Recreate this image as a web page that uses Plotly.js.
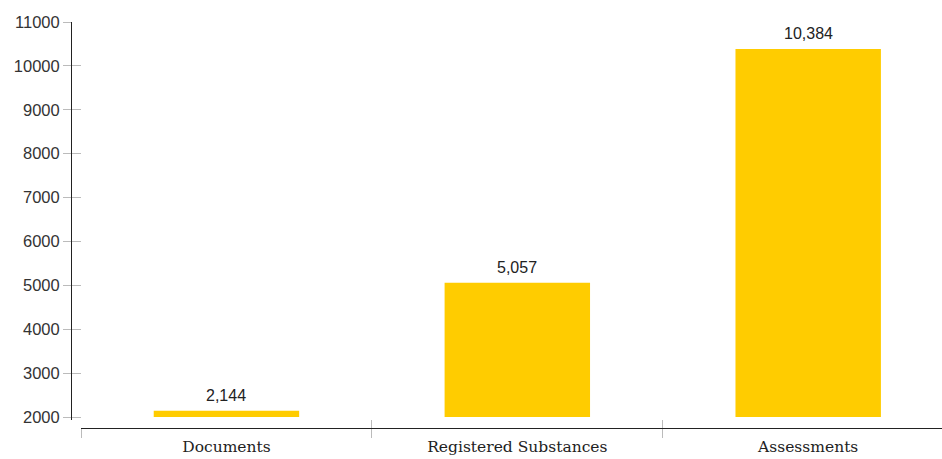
<!DOCTYPE html>
<html>
<head>
<meta charset="utf-8">
<script src="https://cdn.plot.ly/plotly-3.0.1.min.js"></script>
<style>
  html, body { margin: 0; padding: 0; background: #fff; }
  #chart { width: 942px; height: 459px; }
</style>
</head>
<body>
<div id="chart"></div>
<script>
// Record counts per category; bars start at the axis baseline.
const categories = ['Documents', 'Registered Substances', 'Assessments'];
const counts = [2144, 5057, 10384];
const baseline = 2000;
const yTicks = [2000, 3000, 4000, 5000, 6000, 7000, 8000, 9000, 10000, 11000];

const W = 942, H = 459;
const mL = 71, mR = 0, mT = 22, mB = 31;
const plotW = W - mL - mR, plotH = H - mT - mB;
const xStart = 10 / plotW;          // x-axis begins a little right of the y-axis
const yStart = 8 / plotH;           // y-axis stops a little above the x-axis

const yRange = [1932, 11000];
const xRange = [-0.5, 2.46];

const labelText = counts.map(v => v.toLocaleString('en-US'));

const trace = {
  type: 'bar',
  x: categories,
  y: counts.map(v => v - baseline),
  base: baseline,
  width: 0.5,
  marker: { color: '#FFCC00' },
  hoverinfo: 'x+y',
  xaxis: 'x',
  yaxis: 'y'
};

// Invisible companion trace so the overlay axes exist.
const ghost = {
  type: 'bar', x: categories, y: [null, null, null],
  xaxis: 'x2', yaxis: 'y2', showlegend: false, hoverinfo: 'skip'
};

// Value labels sit just above each bar top.
const valueLabels = categories.map((c, i) => ({
  x: c, y: counts[i], xref: 'x', yref: 'y',
  text: labelText[i], showarrow: false,
  xanchor: 'center', yanchor: 'bottom', yshift: 5,
  font: { family: 'Liberation Sans, sans-serif', size: 16, color: '#222' }
}));

const layout = {
  width: W, height: H,
  margin: { l: mL, r: mR, t: mT, b: mB, pad: 0 },
  paper_bgcolor: '#fff', plot_bgcolor: '#fff',
  showlegend: false,
  bargap: 0.5,
  annotations: valueLabels,
  xaxis: {
    type: 'category',
    domain: [xStart, 1],
    range: xRange,
    anchor: 'free', position: 0,
    showline: true, linecolor: '#222', linewidth: 1.2,
    showgrid: false, zeroline: false,
    ticks: 'outside', tickson: 'boundaries', ticklen: 9, tickcolor: '#bbb', tickwidth: 1,
    ticklabelstandoff: 4,
    tickfont: { family: 'DejaVu Serif, serif', size: 15.5, color: '#222' }
  },
  xaxis2: {
    type: 'category', overlaying: 'x',
    domain: [xStart, 1], range: xRange,
    anchor: 'free', position: 0,
    showline: false, showgrid: false, zeroline: false, showticklabels: false,
    ticks: 'inside', tickson: 'boundaries', ticklen: 8, tickcolor: '#bbb', tickwidth: 1
  },
  yaxis: {
    domain: [yStart, 1],
    range: yRange,
    anchor: 'free', position: 0,
    tickvals: yTicks,
    ticktext: yTicks.map(String),
    showline: true, linecolor: '#222', linewidth: 1.2,
    showgrid: false, zeroline: false,
    ticks: 'outside', ticklen: 8, tickcolor: '#bbb', tickwidth: 1,
    tickfont: { family: 'Liberation Sans, sans-serif', size: 16.5, color: '#333' }
  },
  yaxis2: {
    overlaying: 'y', domain: [yStart, 1], range: yRange,
    anchor: 'free', position: 0,
    tickvals: yTicks,
    showline: false, showgrid: false, zeroline: false, showticklabels: false,
    ticks: 'inside', ticklen: 9, tickcolor: '#bbb', tickwidth: 1
  }
};

Plotly.newPlot('chart', [trace, ghost], layout, { displayModeBar: false, staticPlot: true });
</script>
</body>
</html>
